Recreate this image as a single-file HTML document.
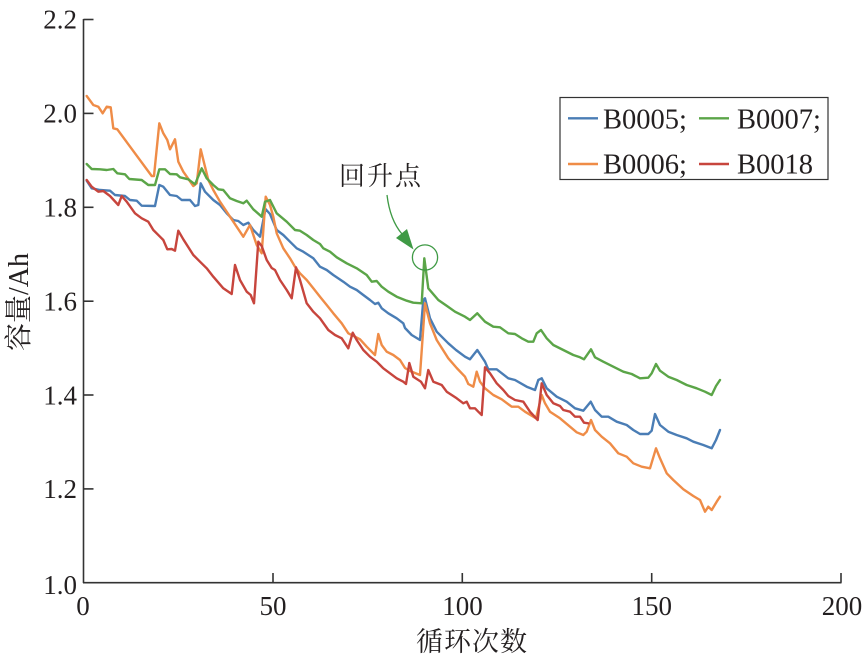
<!DOCTYPE html>
<html>
<head>
<meta charset="utf-8">
<style>
html,body{margin:0;padding:0;background:#fff;}
svg{display:block;}
.tk{font-family:"Liberation Serif","Noto Serif CJK SC",serif;font-size:27px;fill:#231f20;}
.lg{font-family:"Liberation Serif","Noto Serif CJK SC",serif;font-size:28.5px;fill:#231f20;}
.cj{font-family:"Liberation Serif","Noto Serif CJK SC",serif;fill:#231f20;}
</style>
</head>
<body>
<svg width="866" height="657" viewBox="0 0 866 657" xmlns="http://www.w3.org/2000/svg">
<rect width="866" height="657" fill="#fff"/>

<!-- series -->
<g fill="none" stroke-width="2.4" stroke-linejoin="round" stroke-linecap="round">
<polyline stroke="#4a7db5" points="86.7,180.7 91.7,188.3 100,190 110,190.7 115,195 125,196 130,200 136.7,200.7 141.7,205.7 155,206 159.3,185 163.3,186.7 170,195 176.7,196 181.7,200 190,200 195,206 198.3,205 200.7,183.3 205,191.7 213.3,200 220,205 226.7,213.3 233.3,220 238.3,221 243.3,225 248.3,222.7 253.3,230 260,236.7 265.5,209 270,214 276.7,230 283.3,235 290,241.7 296.7,248.3 303.3,251.7 313.3,258.3 320,266.7 326.7,270 333.3,275 343.3,281.7 350,286.7 356.7,290 363.3,295 370,300 375,304 378.3,302.7 381.7,308.3 388.3,313.3 396.7,318.3 403.3,323.3 405,328 411.7,335 420,340 423.3,300 425,298.3 430,318.3 436.7,331.7 448.3,343.3 456,350 465,356.7 470,359.3 477.3,350 485,361.7 488.3,369.3 496.7,369.3 508.3,378.3 515,380 526.7,386.7 535,390 538.3,380 541.7,378.3 546.7,388.3 556.7,396.7 566.7,401.7 575,408.3 583.3,410.7 590.7,401.7 595,410 601.7,416.7 608.3,416.7 616.7,421.7 626.7,425 633.3,430 640,434 648.3,434 651.7,430.7 655,414 660,425 668.3,431.7 676.7,435 686.7,438.3 693.3,441.7 703.3,445 711.7,448.3 716,440 720,430"/>
<polyline stroke="#ef8c47" points="86.7,96 93.3,105 98.3,106.7 102.7,113.3 106.7,106.7 110.7,107.3 113.3,128.3 117.3,129.3 151.7,176 154,176 159.3,123.3 163.3,133.3 167.3,140 170,149.3 175,139.3 178.3,161.7 183.3,171.7 193.3,186 196.7,183.3 200.7,149.3 205,166.7 208.3,180 213.3,190 220,201.7 243.3,236.7 250,225 256.7,245 261.7,253.3 265.7,196.7 270,205 273.3,216.7 276.7,233.3 283.3,248.3 290,258.3 295,266.7 300,273.3 306.7,280 313.3,288.3 320,296.7 326.7,305 333.3,313.3 341.7,323.3 348.3,333.3 355,336.7 360,339.3 366.7,346.7 375,355 378.3,334 381.7,345 386.7,351.7 393.3,355 400,360 405,368 410,371 420,375 425,303.3 430,323.3 436.7,340 448.3,358.3 456.7,368 465,376.7 468.3,384 473.3,386.7 476.7,371.7 480,381.7 485,388.3 493.3,395 501.7,399.3 511.7,406.7 518.3,406.7 525,411.7 536,418.3 541.7,395 545,403.3 550,411.7 560,418.3 570,426.7 576.7,432.3 583.3,435 586.7,431.7 591,420 595,430 601.7,436.7 610,443.3 618.3,453.3 626.7,456.7 633.3,463.3 641.7,466.7 650,468.3 656,448.3 660,458.3 666.7,473.3 673.3,480 683.3,489.3 693.3,496 700,500 705,511.7 708.3,506.7 711.7,510 716.7,501.7 720,496.7"/>
<polyline stroke="#5ba548" points="86.7,164 91.7,169 100,169.3 106.7,170 113.3,169 117.3,173.3 125,174.3 129.3,179 141.7,180 148.3,185 155,185 159.3,169.3 165,169.3 170,174 176.7,174.3 180,177.3 188.3,179.3 195,184.3 201.7,168.3 206.7,178.3 213.3,185 218.3,189.3 223.3,190 230,198.3 236.7,201 243.3,203.3 246.7,200.7 253.3,209.3 261.7,216.7 265,201.7 270,200 276.7,213.3 286.7,221.7 295,230 300,230.7 306.7,235 313.3,240 320,244 323.3,248.3 330,251.7 336.7,257.3 346.7,263.3 356.7,268.3 366.7,275 371.7,281.7 376.7,281 381.7,286.7 388.3,291.7 396.7,296.7 406.7,300.7 413.3,302.7 421.7,303.3 424.3,258.3 428.3,288.3 438.3,300 447,306 455,311.7 465,316.7 470,320 477.3,313.3 485,321.7 493.3,326.7 500,327.3 508.3,333.3 515,334 521.7,338.3 528.3,341.7 533.3,341.7 536.7,333.3 541,330 546.7,338.3 553.3,345 563.3,350 573.3,355 580,357.3 584,359.3 591,349.3 595,357.3 603.3,361.7 613.3,366.7 623.3,371.7 631.7,374 640,378.3 648.3,377.7 651.7,373.3 656,364 660,370.7 668.3,376.7 676.7,380 686.7,385 696.7,388.3 705,391.7 711.7,395 716,386 720,380"/>
<polyline stroke="#c7453d" points="86.7,180 91.7,186.7 98.3,191.7 103.3,191 110,196 118.3,205 121.7,196 126.7,201.7 135,213.3 141.7,218.3 148.3,221.7 153.3,230 160,236.7 163.3,240 167.3,249.3 171.7,249 175,250.7 178.3,230.7 183.3,239.3 193.3,255 200,261.7 206.7,268.3 213.3,276.7 223.3,288.3 231.7,294 235,265 240,280 246.7,291.7 250.7,295 254,303.3 258.3,241.7 261.7,246 266.7,260 271.7,268 275,270 280,280 286.7,290 291.7,298.3 296,267.3 300,280 306.7,303.3 313.3,311.7 320,318.3 328.3,330 335,335 341.7,338.3 348.3,348.3 352.7,332.7 356.7,340 363.3,350 370,356.7 376.7,361.7 383.3,368.3 390,373.3 396.7,378.3 403.3,381.7 406,384 409.3,363 413.3,376.7 421,381.7 425,388.3 428.3,370 433.3,381.7 441.7,385 446.7,391.7 456.7,398.3 463.3,403.3 466.7,401.7 470,408.3 475,408.3 478.3,411.7 481.7,415 485,367.3 490,373.3 496.7,383.3 503.3,390 508.3,396 515,400 523.3,401.7 530,411.7 537.7,420 541.7,383.3 546.7,395 553.3,403.3 560,406 563.3,410 570,411.7 575,416.7 580,416.7 584,422.7 588.3,423.3"/>
</g>

<!-- axes -->
<g stroke="#333" stroke-width="1.6" fill="none">
<line x1="83.5" y1="19" x2="83.5" y2="583"/>
<line x1="83" y1="582.7" x2="841.5" y2="582.7"/>
<line x1="83.5" y1="19.5" x2="93.5" y2="19.5"/>
<line x1="83.5" y1="113.4" x2="93.5" y2="113.4"/>
<line x1="83.5" y1="207.3" x2="93.5" y2="207.3"/>
<line x1="83.5" y1="301.2" x2="93.5" y2="301.2"/>
<line x1="83.5" y1="395" x2="93.5" y2="395"/>
<line x1="83.5" y1="488.9" x2="93.5" y2="488.9"/>
<line x1="273" y1="582.7" x2="273" y2="573"/>
<line x1="462.3" y1="582.7" x2="462.3" y2="573"/>
<line x1="651.7" y1="582.7" x2="651.7" y2="573"/>
<line x1="841" y1="582.7" x2="841" y2="573"/>
</g>

<!-- y tick labels -->
<g class="tk" text-anchor="end">
<text x="77" y="28.5">2.2</text>
<text x="77" y="122.5">2.0</text>
<text x="77" y="216.5">1.8</text>
<text x="77" y="310.5">1.6</text>
<text x="77" y="404.5">1.4</text>
<text x="77" y="498">1.2</text>
<text x="77" y="594">1.0</text>
</g>
<!-- x tick labels -->
<g class="tk" text-anchor="middle">
<text x="83" y="615">0</text>
<text x="273" y="615">50</text>
<text x="462.5" y="615">100</text>
<text x="651.7" y="615">150</text>
<text x="842" y="615">200</text>
</g>

<!-- axis titles -->
<text class="cj" x="472" y="651" font-size="27" text-anchor="middle" letter-spacing="1">循环次数</text>
<text class="cj" font-size="28" text-anchor="middle" transform="translate(28,302) rotate(-90)">容量/Ah</text>

<!-- legend -->
<rect x="560" y="97.5" width="268" height="82" fill="#fff" stroke="#333" stroke-width="1.2"/>
<g stroke-width="2.4">
<line x1="568" y1="118.3" x2="598" y2="118.3" stroke="#4a7db5"/>
<line x1="699" y1="118.3" x2="729" y2="118.3" stroke="#5ba548"/>
<line x1="568" y1="164" x2="598" y2="164" stroke="#ef8c47"/>
<line x1="699" y1="164" x2="729" y2="164" stroke="#c7453d"/>
</g>
<g class="lg">
<text x="603" y="128.5">B0005;</text>
<text x="737" y="128.5">B0007;</text>
<text x="603" y="173.5">B0006;</text>
<text x="737" y="173.5">B0018</text>
</g>

<!-- annotation -->
<text class="cj" x="339" y="185" font-size="26" letter-spacing="2">回升点</text>
<path d="M387,195 Q390,220 402,234" fill="none" stroke="#3f9a45" stroke-width="1.3"/>
<polygon points="413.5,249.5 396,238 407,229" fill="#3f9a45"/>
<circle cx="425" cy="257.5" r="12.6" fill="none" stroke="#3f9a45" stroke-width="1.3"/>
</svg>
</body>
</html>
